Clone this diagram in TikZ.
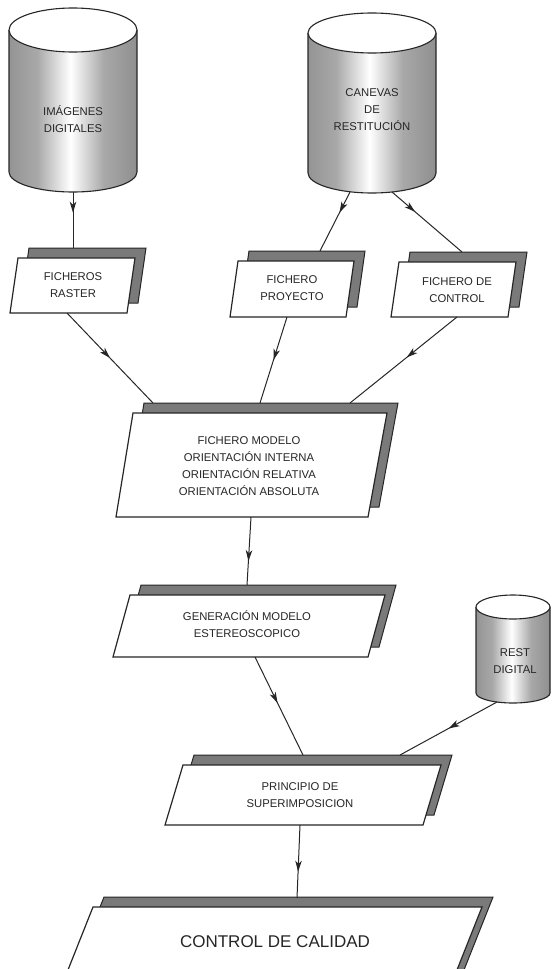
\documentclass[tikz,border=0pt]{standalone}
\usepackage{fontspec}
\setmainfont{Liberation Sans}
\usetikzlibrary{arrows.meta,decorations.markings}

% grey drum body with a bright band down the middle
\pgfdeclarehorizontalshading{drumshade}{100bp}{%
  color(0bp)=(black!42); color(25bp)=(black!42); color(36bp)=(black!34);
  color(49bp)=(white); color(62bp)=(black!34); color(75bp)=(black!44);
  color(100bp)=(black!44)}

% drum: centre x, x radius, top y, top y radius, bottom y, bottom y radius
\newcommand\drum[6]{%
  \shade[shading=drumshade] (#1-#2,-#3) -- (#1-#2,-#5)
     arc[start angle=180,end angle=360,x radius=#2,y radius=#6] -- (#1+#2,-#3) -- cycle;
  \draw[drumline] (#1-#2,-#3) -- (#1-#2,-#5)
     arc[start angle=180,end angle=360,x radius=#2,y radius=#6] -- (#1+#2,-#3);
  \filldraw[drumline,fill=white] (#1,-#3) ellipse[x radius=#2,y radius=#4];
}

% slanted plate with its dark backing:
% top-left x, top-right x, bottom-left x, bottom-right x, top y, bottom y
\newcommand\plate[6]{%
  \filldraw[plateback] (#1,-#5) -- (#2,-#5) -- (#4,-#6) -- (#3,-#6) -- cycle;
  \filldraw[platefront] (#1,-#5) -- (#2,-#5) -- (#4,-#6) -- (#3,-#6) -- cycle;
}

\begin{document}
\begin{tikzpicture}[x=1pt,y=1pt,
  drumline/.style={draw=black!85,line width=1.1pt},
  plateback/.style={fill=black!52,draw=black!85,line width=1pt,shift={(11,10)}},
  platefront/.style={fill=white,draw=black!85,line width=1.2pt},
  label/.style={align=center,font=\fontsize{11.3}{17}\selectfont,text=black!85,inner sep=0pt},
  biglabel/.style={align=center,font=\fontsize{17}{20}\selectfont,text=black!85,inner sep=0pt},
  flow/.style={draw=black!85,line width=1pt,postaction={decorate},
    decoration={markings,mark=at position #1 with
      {\arrow{Stealth[length=11pt,width=6.5pt,inset=3pt]}}}},
  flow/.default=0.5]

\useasboundingbox (0,0) rectangle (554,-969);
\clip (0,0) rectangle (554,-969);

% ---- data stores
\drum{73}{64}{30}{22}{172}{20}
\node[label] (img) at (73,-119) {IMÁGENES\\DIGITALES};

\drum{372}{64}{33}{20}{173}{20}
\node[label] (canevas) at (372,-110) {CANEVAS\\DE\\RESTITUCIÓN};

\drum{513}{37}{607}{12}{693}{10}
\node[label] (rest) at (515,-661) {REST\\DIGITAL};

% ---- files and steps
\plate{18}{135}{10}{127}{258}{313}
\node[label] (raster) at (73,-285) {FICHEROS\\RASTER};

\plate{238}{354}{230}{346}{261}{317}
\node[label] (proyecto) at (292,-288) {FICHERO\\PROYECTO};

\plate{399}{516}{391}{508}{262}{317}
\node[label] (control) at (457,-290) {FICHERO DE\\CONTROL};

\plate{133}{387}{116}{368}{413}{517}
\node[label] (modelo) at (249,-466) {FICHERO MODELO\\ORIENTACIÓN INTERNA\\ORIENTACIÓN RELATIVA\\ORIENTACIÓN ABSOLUTA};

\plate{130}{385}{113}{368}{595}{657}
\node[label] (estereo) at (247,-624) {GENERACIÓN MODELO\\ESTEREOSCOPICO};

\plate{183}{441}{165}{423}{765}{825}
\node[label] (superimp) at (300,-795) {PRINCIPIO DE\\SUPERIMPOSICION};

\plate{93}{482}{60}{449}{907}{990}
\node[biglabel] (calidad) at (275,-942) {CONTROL DE CALIDAD};

% ---- connection points
\coordinate (imgB) at (73,-192);
\coordinate (rasterT) at (73,-248);
\coordinate (canL) at (350,-192);
\coordinate (canR) at (392,-192);
\coordinate (proyT) at (320,-251);
\coordinate (contT) at (462,-252);
\coordinate (rasterB) at (67,-313);
\coordinate (proyB) at (287,-317);
\coordinate (contB) at (457,-317);
\coordinate (modT1) at (153,-403);
\coordinate (modT2) at (260,-403);
\coordinate (modT3) at (350,-403);
\coordinate (modB) at (251,-517);
\coordinate (estT) at (247,-585);
\coordinate (estB) at (255,-657);
\coordinate (supT1) at (303,-755);
\coordinate (restB) at (497,-702);
\coordinate (supT2) at (400,-755);
\coordinate (supB) at (300,-825);
\coordinate (calT) at (297,-898);

% ---- connectors
\draw[flow=0.37] (imgB) -- (rasterT);
\draw[flow=0.35] (canL) -- (proyT);
\draw[flow=0.33] (canR) -- (contT);
\draw[flow=0.5] (rasterB) -- (modT1);
\draw[flow=0.5] (proyB) -- (modT2);
\draw[flow=0.47] (contB) -- (modT3);
\draw[flow=0.65] (modB) -- (estT);
\draw[flow=0.47] (estB) -- (supT1);
\draw[flow=0.5] (restB) -- (supT2);
\draw[flow=0.64] (supB) -- (calT);
\end{tikzpicture}
\end{document}
